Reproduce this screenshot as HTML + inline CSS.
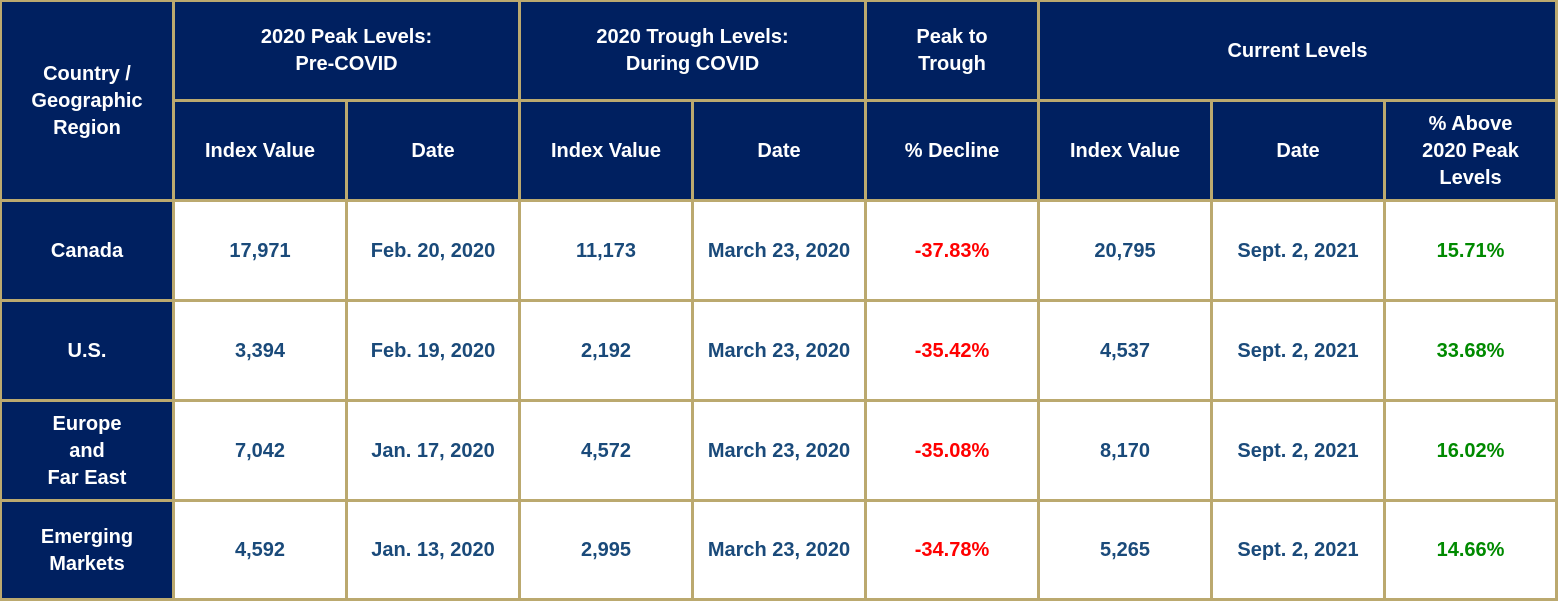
<!DOCTYPE html>
<html><head><meta charset="utf-8"><style>
html,body{margin:0;padding:0}
body{width:1558px;height:601px;background:#BBA96F;position:relative;overflow:hidden;font-family:"Liberation Sans",Arial,sans-serif;font-weight:bold;font-size:20px}
.c{position:absolute;display:flex;align-items:center;justify-content:center;text-align:center;line-height:27px;box-sizing:border-box;padding-top:1px}
.h{background:#002060;color:#fff}
.d{background:#fff;color:#1A4A7A}
.r{color:#FF0000}.g{color:#008A00}
</style></head><body>
<div class="c h" style="left:2px;top:2px;width:170px;height:197px">Country /<br>Geographic<br>Region</div>
<div class="c h" style="left:175px;top:2px;width:343px;height:97px">2020 Peak Levels:<br>Pre-COVID</div>
<div class="c h" style="left:521px;top:2px;width:343px;height:97px">2020 Trough Levels:<br>During COVID</div>
<div class="c h" style="left:867px;top:2px;width:170px;height:97px">Peak to<br>Trough</div>
<div class="c h" style="left:1040px;top:2px;width:515px;height:97px">Current Levels</div>
<div class="c h" style="left:175px;top:102px;width:170px;height:97px">Index Value</div>
<div class="c h" style="left:348px;top:102px;width:170px;height:97px">Date</div>
<div class="c h" style="left:521px;top:102px;width:170px;height:97px">Index Value</div>
<div class="c h" style="left:694px;top:102px;width:170px;height:97px">Date</div>
<div class="c h" style="left:867px;top:102px;width:170px;height:97px">% Decline</div>
<div class="c h" style="left:1040px;top:102px;width:170px;height:97px">Index Value</div>
<div class="c h" style="left:1213px;top:102px;width:170px;height:97px">Date</div>
<div class="c h" style="left:1386px;top:102px;width:169px;height:97px">% Above<br>2020 Peak<br>Levels</div>

<div class="c h" style="left:2px;top:202px;width:170px;height:97px">Canada</div>
<div class="c d" style="left:175px;top:202px;width:170px;height:97px">17,971</div>
<div class="c d" style="left:348px;top:202px;width:170px;height:97px">Feb. 20, 2020</div>
<div class="c d" style="left:521px;top:202px;width:170px;height:97px">11,173</div>
<div class="c d" style="left:694px;top:202px;width:170px;height:97px">March 23, 2020</div>
<div class="c d r" style="left:867px;top:202px;width:170px;height:97px">-37.83%</div>
<div class="c d" style="left:1040px;top:202px;width:170px;height:97px">20,795</div>
<div class="c d" style="left:1213px;top:202px;width:170px;height:97px">Sept. 2, 2021</div>
<div class="c d g" style="left:1386px;top:202px;width:169px;height:97px">15.71%</div>

<div class="c h" style="left:2px;top:302px;width:170px;height:97px">U.S.</div>
<div class="c d" style="left:175px;top:302px;width:170px;height:97px">3,394</div>
<div class="c d" style="left:348px;top:302px;width:170px;height:97px">Feb. 19, 2020</div>
<div class="c d" style="left:521px;top:302px;width:170px;height:97px">2,192</div>
<div class="c d" style="left:694px;top:302px;width:170px;height:97px">March 23, 2020</div>
<div class="c d r" style="left:867px;top:302px;width:170px;height:97px">-35.42%</div>
<div class="c d" style="left:1040px;top:302px;width:170px;height:97px">4,537</div>
<div class="c d" style="left:1213px;top:302px;width:170px;height:97px">Sept. 2, 2021</div>
<div class="c d g" style="left:1386px;top:302px;width:169px;height:97px">33.68%</div>

<div class="c h" style="left:2px;top:402px;width:170px;height:97px">Europe<br>and<br>Far East</div>
<div class="c d" style="left:175px;top:402px;width:170px;height:97px">7,042</div>
<div class="c d" style="left:348px;top:402px;width:170px;height:97px">Jan. 17, 2020</div>
<div class="c d" style="left:521px;top:402px;width:170px;height:97px">4,572</div>
<div class="c d" style="left:694px;top:402px;width:170px;height:97px">March 23, 2020</div>
<div class="c d r" style="left:867px;top:402px;width:170px;height:97px">-35.08%</div>
<div class="c d" style="left:1040px;top:402px;width:170px;height:97px">8,170</div>
<div class="c d" style="left:1213px;top:402px;width:170px;height:97px">Sept. 2, 2021</div>
<div class="c d g" style="left:1386px;top:402px;width:169px;height:97px">16.02%</div>

<div class="c h" style="left:2px;top:502px;width:170px;height:96px">Emerging<br>Markets</div>
<div class="c d" style="left:175px;top:502px;width:170px;height:96px">4,592</div>
<div class="c d" style="left:348px;top:502px;width:170px;height:96px">Jan. 13, 2020</div>
<div class="c d" style="left:521px;top:502px;width:170px;height:96px">2,995</div>
<div class="c d" style="left:694px;top:502px;width:170px;height:96px">March 23, 2020</div>
<div class="c d r" style="left:867px;top:502px;width:170px;height:96px">-34.78%</div>
<div class="c d" style="left:1040px;top:502px;width:170px;height:96px">5,265</div>
<div class="c d" style="left:1213px;top:502px;width:170px;height:96px">Sept. 2, 2021</div>
<div class="c d g" style="left:1386px;top:502px;width:169px;height:96px">14.66%</div>
</body></html>
